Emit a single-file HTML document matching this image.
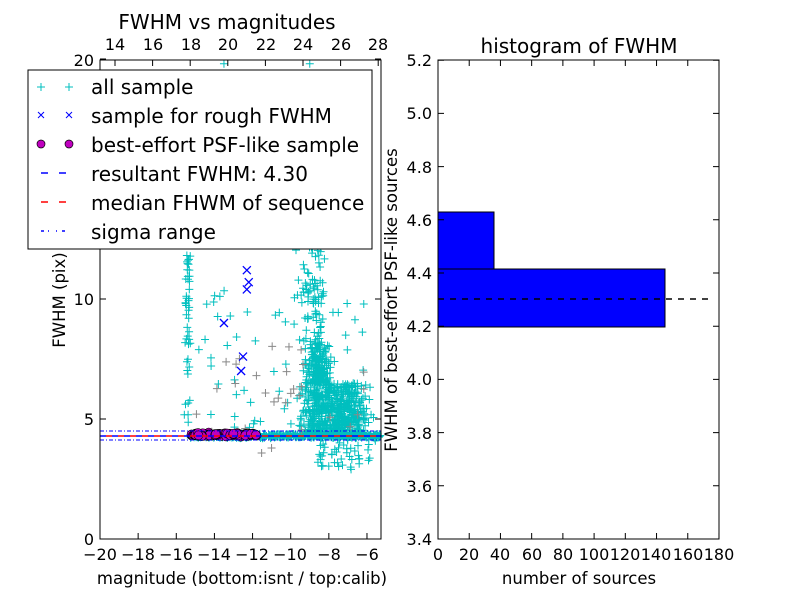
<!DOCTYPE html>
<html><head><meta charset="utf-8"><style>
body{margin:0;background:#fff}
svg{display:block;font-family:"DejaVu Sans","Liberation Sans",sans-serif}
</style></head><body>
<svg id="s" width="800" height="600" viewBox="0 0 800 600" xmlns="http://www.w3.org/2000/svg">
<rect width="800" height="600" fill="#fff"/>
<g id="pts"></g>
<line x1="100" y1="436" x2="381" y2="436" stroke="#00f" stroke-width="1.5" stroke-dasharray="6,6"/>
<line x1="100" y1="436" x2="381" y2="436" stroke="#f00" stroke-width="1.5" stroke-dasharray="6,6" stroke-dashoffset="6"/>
<line x1="100" y1="431" x2="381" y2="431" stroke="#00f" stroke-width="1" stroke-dasharray="4,2,1,2"/>
<line x1="100" y1="440" x2="381" y2="440" stroke="#00f" stroke-width="1" stroke-dasharray="4,2,1,2"/>
<rect x="100" y="60" width="281" height="479" fill="none" stroke="#000" stroke-width="1"/>
<g id="lt" stroke="#000"></g>
<g font-size="16" text-anchor="middle" fill="#000">
<text x="100" y="560">−20</text><text x="138" y="560">−18</text><text x="176" y="560">−16</text><text x="214" y="560">−14</text><text x="252" y="560">−12</text><text x="290" y="560">−10</text><text x="329" y="560">−8</text><text x="367" y="560">−6</text>
<text x="115" y="50">14</text><text x="153" y="50">16</text><text x="191" y="50">18</text><text x="228" y="50">20</text><text x="266" y="50">22</text><text x="303" y="50">24</text><text x="341" y="50">26</text><text x="378" y="50">28</text>
</g>
<g font-size="16" text-anchor="end"><text x="94" y="545">0</text><text x="94" y="425">5</text><text x="94" y="305">10</text><text x="94" y="66">20</text></g>
<text x="242" y="584" font-size="16.5" text-anchor="middle">magnitude (bottom:isnt / top:calib)</text>
<text x="227" y="29" font-size="20" text-anchor="middle">FWHM vs magnitudes</text>
<text transform="translate(65,300) rotate(-90)" font-size="16.5" text-anchor="middle">FWHM (pix)</text>
<rect x="28" y="70" width="344" height="179" fill="#fff" stroke="#000"/>
<g font-size="20">
<text x="91" y="94">all sample</text>
<text x="91" y="123">sample for rough FWHM</text>
<text x="91" y="152">best-effort PSF-like sample</text>
<text x="91" y="181">resultant FWHM: 4.30</text>
<text x="91" y="210">median FHWM of sequence</text>
<text x="91" y="239">sigma range</text>
</g>
<g stroke="#00bfbf" stroke-width="1"><path d="M37 87h8M41 83v8M65 87h8M69 83v8"/></g>
<g stroke="#00f" stroke-width="1"><path d="M38 112l6 6M44 112l-6 6M66 112l6 6M72 112l-6 6"/></g>
<g fill="#bf00bf" stroke="#000" stroke-width="0.7"><circle cx="41" cy="144" r="4"/><circle cx="69" cy="144" r="4"/></g>
<path d="M41 173h7M59 173h7" stroke="#00f" stroke-width="1.5"/>
<path d="M41 202h7M59 202h7" stroke="#f00" stroke-width="1.5"/>
<path d="M41 231h3M48 231h1M56 231h1M62 231h3" stroke="#00f" stroke-width="1.5"/>
<rect x="438" y="269" width="227" height="58" fill="#00f" stroke="#000"/>
<rect x="438" y="212" width="56" height="57" fill="#00f" stroke="#000"/>
<line x1="438" y1="299" x2="712" y2="299" stroke="#000" stroke-width="1.5" stroke-dasharray="6,6"/>
<rect x="438" y="60" width="281" height="479" fill="none" stroke="#000"/>
<g id="rt" stroke="#000"></g>
<g font-size="16" text-anchor="middle">
<text x="438" y="560">0</text><text x="469" y="560">20</text><text x="500" y="560">40</text><text x="532" y="560">60</text><text x="563" y="560">80</text><text x="594" y="560">100</text><text x="625" y="560">120</text><text x="656" y="560">140</text><text x="688" y="560">160</text><text x="719" y="560">180</text>
</g>
<g font-size="16" text-anchor="end">
<text x="432" y="545">3.4</text><text x="432" y="492">3.6</text><text x="432" y="439">3.8</text><text x="432" y="385">4.0</text><text x="432" y="332">4.2</text><text x="432" y="279">4.4</text><text x="432" y="226">4.6</text><text x="432" y="173">4.8</text><text x="432" y="119">5.0</text><text x="432" y="66">5.2</text>
</g>
<text x="579" y="584" font-size="16.5" text-anchor="middle">number of sources</text>
<text x="579" y="53" font-size="20" text-anchor="middle">histogram of FWHM</text>
<text transform="translate(397,300) rotate(-90)" font-size="16.5" text-anchor="middle">FWHM of best-effort PSF-like sources</text>
</svg>
<script>
(function(){
var g=document.getElementById('pts');
var seed=7;function r(){seed=(seed*16807)%2147483647;return seed/2147483647;}
function n(){return (r()+r()+r()+r()-2)*1.2;}
var out=[];
function X(m){return 100+(m+20)*19.07;}function Y(f){return 539-f*24;}
function plus(x,y,c){if(x<100||x>381||y<60||y>539)return;out.push('<path d="M'+(x-4)+' '+y+'h8M'+x+' '+(y-4)+'v8" stroke="'+c+'" stroke-width="1"/>');}
var C="#00bfbf",G="#888";
for(var i=0;i<900;i++){var f=4.3+Math.abs(n())*2.6+(r()<0.15?r()*10:0);var m=-8.5+n()*0.45+(f<6.5?(r()-0.25)*2.8:0)-(f-6)*0.07;plus(X(m),Y(f),C);}
for(var i=0;i<60;i++){plus(X(-9+r()*3.5),Y(2.9+r()*1.5),C);}
for(var i=0;i<500;i++){plus(X(-15.3+r()*10),Y(4.3+n()*0.06),C);}
for(var i=0;i<45;i++){plus(X(-15.4+n()*0.1),Y(4.5+r()*7.5),C);}
for(var i=0;i<70;i++){plus(X(-15+r()*9),Y(4.5+r()*6),C);}
for(var i=0;i<30;i++){plus(X(-15+r()*9),Y(3.3+r()*5),G);}
plus(X(-13.5),Y(19.8),C);plus(X(-9),Y(19.8),C);
var xs=[[-12.3,11.2],[-12.2,10.7],[-12.3,10.4],[-13.5,9.0],[-12.5,7.6],[-12.6,7.0]];
xs.forEach(function(p){var x=X(p[0]),y=Y(p[1]);out.push('<path d="M'+(x-4)+' '+(y-4)+'l8 8M'+(x+4)+' '+(y-4)+'l-8 8" stroke="#00f" stroke-width="1.3"/>');});
for(var i=0;i<140;i++){out.push('<circle cx="'+(X(-15.2+r()*3.4))+'" cy="'+Y(4.35+n()*0.05)+'" r="4.5" fill="#bf00bf" stroke="#000" stroke-width="0.6"/>');}
g.innerHTML=out.join('');
var t=[];
[-20,-18,-16,-14,-12,-10,-8,-6].forEach(function(m){var x=X(m);t.push('<path d="M'+x+' 539v-6"/>');});
for(var k=14;k<=28;k+=2){var x=115+(k-14)*18.8;t.push('<path d="M'+x+' 60v6"/>');}
[0,5,10,20].forEach(function(f){var y=Y(f);t.push('<path d="M100 '+y+'h6M381 '+y+'h-6"/>');});
document.getElementById('lt').innerHTML=t.join('');
t=[];for(var v=0;v<=180;v+=20){var x=438+v*1.561;t.push('<path d="M'+x+' 539v-6M'+x+' 60v6"/>');}
for(var j=0;j<10;j++){var y=539-j*53.2;t.push('<path d="M438 '+y+'h6M719 '+y+'h-6"/>');}
document.getElementById('rt').innerHTML=t.join('');
})();
</script>
</body></html>
